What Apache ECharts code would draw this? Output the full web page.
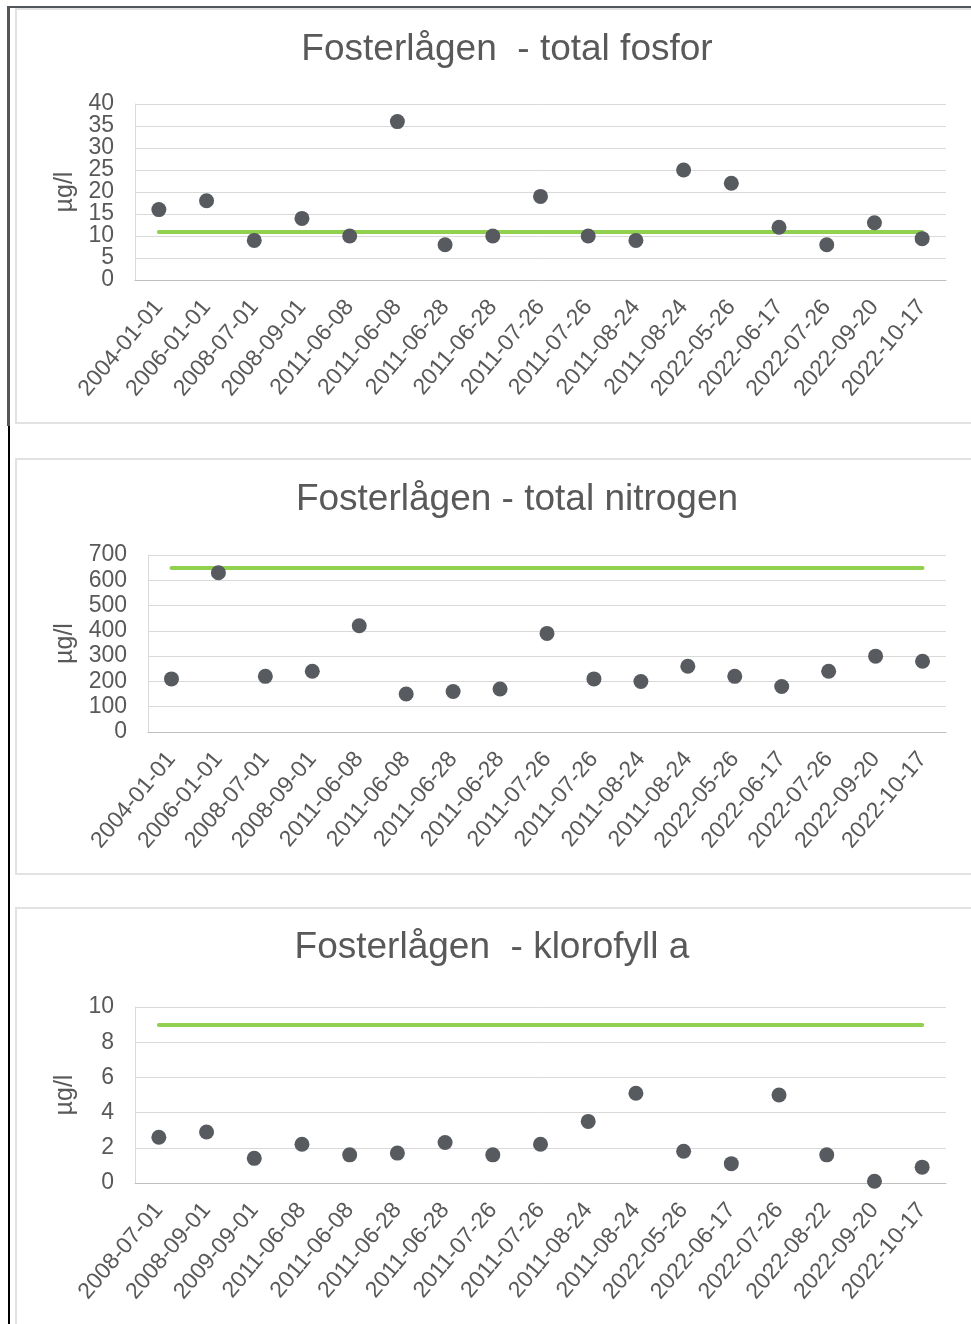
<!DOCTYPE html>
<html>
<head>
<meta charset="utf-8">
<script src="https://cdn.jsdelivr.net/npm/echarts@6/dist/echarts.min.js"></script>
<style>
  html, body { margin: 0; padding: 0; background: #fff; overflow: hidden; }
  #page { position: relative; width: 971px; height: 1324px; }
  #chart { position: absolute; left: 0; top: 0; width: 971px; height: 1324px; }
  .frame-top { position: absolute; left: 7px; top: 6px; width: 964px; height: 2px; background: #52575c; }
  .frame-left-a { position: absolute; left: 7px; top: 6px; width: 3px; height: 420px; background: #52575c; }
  .frame-left-b { position: absolute; left: 8px; top: 426px; width: 2px; height: 898px; background: #000; }
  .box { position: absolute; left: 15px; width: 970px; border: 2px solid #e2e2e2; border-right: none; box-sizing: border-box; }
</style>
</head>
<body>
<div id="page">
  <div class="box" style="top:8px;height:416px;"></div>
  <div class="box" style="top:458px;height:417px;"></div>
  <div class="box" style="top:907px;height:430px;"></div>
  <div class="frame-top"></div>
  <div class="frame-left-a"></div>
  <div class="frame-left-b"></div>
  <div id="chart"></div>
</div>
<script>
// Sampling dates (category axis labels)
const datesPN = ['2004-01-01', '2006-01-01', '2008-07-01', '2008-09-01', '2011-06-08', '2011-06-08',
  '2011-06-28', '2011-06-28', '2011-07-26', '2011-07-26', '2011-08-24', '2011-08-24',
  '2022-05-26', '2022-06-17', '2022-07-26', '2022-09-20', '2022-10-17'];
const datesChl = ['2008-07-01', '2008-09-01', '2009-09-01', '2011-06-08', '2011-06-08', '2011-06-28',
  '2011-06-28', '2011-07-26', '2011-07-26', '2011-08-24', '2011-08-24', '2022-05-26',
  '2022-06-17', '2022-07-26', '2022-08-22', '2022-09-20', '2022-10-17'];

// Measured concentrations, µg/l
const totalFosfor = [16, 18, 9, 14, 10, 36, 8, 10, 19, 10, 9, 25, 22, 12, 8, 13, 9.4];
const totalNitrogen = [210, 630, 220, 240, 420, 150, 160, 170, 390, 210, 200, 260, 220, 180, 240, 300, 280];
const klorofyllA = [2.6, 2.9, 1.4, 2.2, 1.6, 1.7, 2.3, 1.6, 2.2, 3.5, 5.1, 1.8, 1.1, 5.0, 1.6, 0.1, 0.9];

// Reference levels (green lines)
const limitFosfor = 11;
const limitNitrogen = 650;
const limitKlorofyll = 9;

const titleFosfor = 'Fosterlågen  - total fosfor';
const titleNitrogen = 'Fosterlågen - total nitrogen';
const titleKlorofyll = 'Fosterlågen  - klorofyll a';
const unitName = 'µg/l';

const FONT = "'Liberation Sans', Arial, sans-serif";
const TEXT = '#595959';
const DOT = '#575b60';
const GREEN = '#92d050';

const panels = [
  { title: titleFosfor, titleX: 507, titleY: 31, cats: datesPN, values: totalFosfor, limit: limitFosfor,
    min: 0, max: 40, interval: 5, left: 135, top: 104, height: 176, nameGap: 54 },
  { title: titleNitrogen, titleX: 517, titleY: 481, cats: datesPN, values: totalNitrogen, limit: limitNitrogen,
    min: 0, max: 700, interval: 100, left: 148, top: 555, height: 177, nameGap: 67 },
  { title: titleKlorofyll, titleX: 492, titleY: 929, cats: datesChl, values: klorofyllA, limit: limitKlorofyll,
    min: 0, max: 10, interval: 2, left: 135, top: 1007, height: 176, nameGap: 54 }
];

const option = {
  animation: false,
  backgroundColor: 'transparent',
  title: [], grid: [], xAxis: [], yAxis: [], series: []
};

const yLabelStyle = { margin: 21, color: TEXT, fontFamily: FONT, fontSize: 23, hideOverlap: false };

panels.forEach((p, i) => {
  option.title.push({
    text: p.title, left: p.titleX, top: p.titleY, textAlign: 'center', padding: 0,
    textStyle: { fontFamily: FONT, fontSize: 37, fontWeight: 'normal', color: TEXT }
  });
  option.grid.push({
    left: p.left, right: 25, top: p.top, height: p.height,
    containLabel: false, outerBoundsMode: 'none'
  });
  option.xAxis.push({
    type: 'category', gridIndex: i, data: p.cats, boundaryGap: true,
    axisLine: { show: true, lineStyle: { color: '#bfbfbf', width: 1 } },
    axisTick: { show: false },
    axisLabel: { interval: 0, rotate: 50, margin: 23, color: TEXT, fontFamily: FONT, fontSize: 23 },
    splitLine: { show: false }
  });
  // Main value axis: line, grid lines, name and the end labels (min / max)
  option.yAxis.push({
    type: 'value', gridIndex: i, position: 'left', offset: 0,
    min: p.min, max: p.max, interval: p.interval,
    name: unitName, nameLocation: 'middle', nameGap: p.nameGap, nameRotate: 90,
    nameTextStyle: { fontFamily: FONT, fontSize: 25, color: TEXT },
    axisLine: { show: true, onZero: false, lineStyle: { color: '#d9d9d9', width: 1 } },
    axisTick: { show: false },
    axisLabel: Object.assign({}, yLabelStyle, {
      showMinLabel: true, showMaxLabel: true,
      formatter: v => (v === p.min || v === p.max) ? String(v) : ''
    }),
    splitLine: { show: true, lineStyle: { color: '#d9d9d9', width: 1 } }
  });
  // Companion axis on the same grid and side carrying the inner tick labels,
  // so tightly packed labels are all kept
  option.yAxis.push({
    type: 'value', gridIndex: i, position: 'left', offset: 0,
    min: p.min, max: p.max, interval: p.interval,
    axisLine: { show: false, onZero: false }, axisTick: { show: false }, splitLine: { show: false },
    axisLabel: Object.assign({}, yLabelStyle, { showMinLabel: false, showMaxLabel: false })
  });
  option.series.push({
    type: 'scatter', xAxisIndex: i, yAxisIndex: 2 * i, data: p.values,
    symbol: 'circle', symbolSize: 15, z: 3,
    itemStyle: { color: DOT, opacity: 1 },
    markLine: {
      silent: true, symbol: 'none', z: 1, animation: false,
      label: { show: false },
      lineStyle: { color: GREEN, width: 4, type: 'solid', cap: 'round', opacity: 1 },
      emphasis: { disabled: true },
      data: [[{ coord: [p.cats[0], p.limit] }, { coord: [p.cats[p.cats.length - 1], p.limit] }]]
    }
  });
});

const chart = echarts.init(document.getElementById('chart'), null, { renderer: 'canvas' });
chart.setOption(option);
</script>
</body>
</html>
